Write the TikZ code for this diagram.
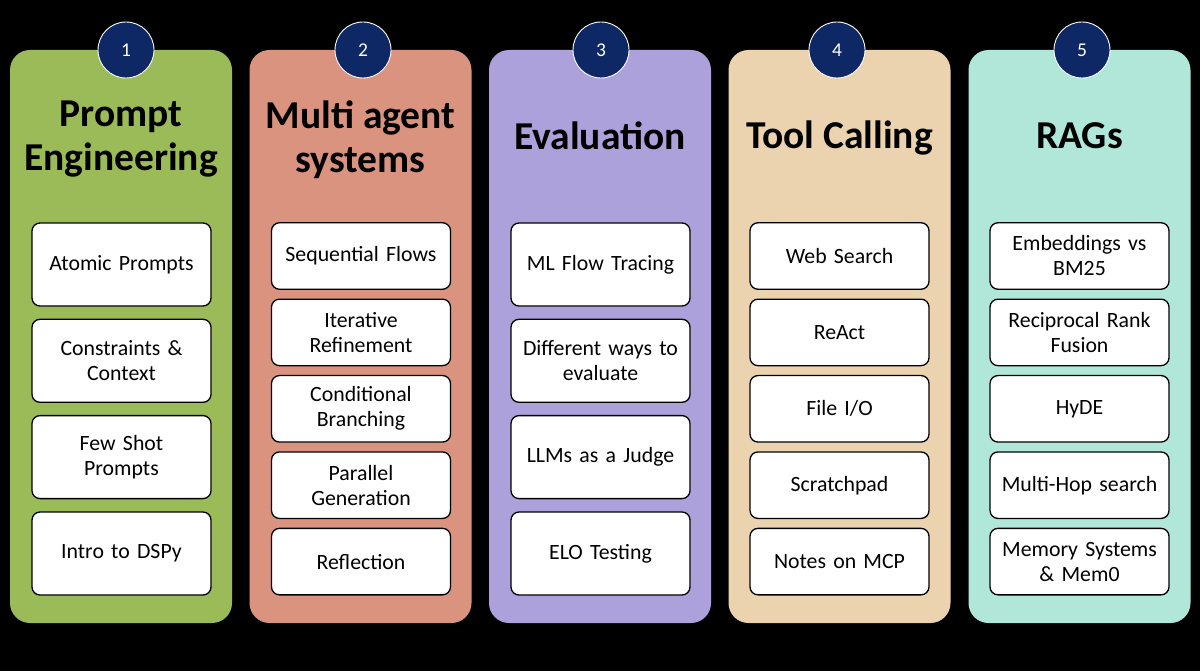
\documentclass[tikz,border=0pt]{standalone}
\usepackage{fontspec}
\setmainfont{Carlito}
\definecolor{cgreen}{HTML}{9BBB59}
\definecolor{csalmon}{HTML}{D9937F}
\definecolor{cpurple}{HTML}{ACA1DA}
\definecolor{ctan}{HTML}{EBD3AF}
\definecolor{cmint}{HTML}{B1E7D8}
\definecolor{cnavy}{HTML}{0E2765}
\begin{document}
\begin{tikzpicture}[x=1pt,y=-1pt,
  panel/.style={rounded corners=20pt, draw=none, minimum width=222pt, minimum height=573pt, inner sep=0pt},
  numc/.style={circle, fill=cnavy, draw=white, line width=0.9pt, minimum size=56pt, inner sep=0pt, text=white, font=\fontsize{19.5}{22}\selectfont},
  title/.style={align=center, font=\fontsize{39.5}{44}\selectfont\bfseries, inner sep=0pt},
  item/.style={draw=black, line width=1.3pt, fill=white, rounded corners=8pt, minimum width=179pt, inner sep=0pt, text width=176pt, align=center, font=\fontsize{21.8}{25}\selectfont},
  itemA/.style={item, minimum height=83pt},
  itemB/.style={item, minimum height=66.5pt}
]
\fill[black] (0,0) rectangle (1200,671);
\useasboundingbox (0,0) rectangle (1200,671);

% panels
\node[panel, fill=cgreen]  (p1) at (121,336.5) {};
\node[panel, fill=csalmon] (p2) at (360.5,336.5) {};
\node[panel, fill=cpurple] (p3) at (600,336.5) {};
\node[panel, fill=ctan]    (p4) at (839.5,336.5) {};
\node[panel, fill=cmint]   (p5) at (1079.5,336.5) {};

% number circles
\node[numc] (n1) at (126,50) {1};
\node[numc] (n2) at (363,50) {2};
\node[numc] (n3) at (601,50) {3};
\node[numc] (n4) at (837,50) {4};
\node[numc] (n5) at (1082,50) {5};

% titles
\node[title] (t1) at (121,139) {Prompt\\Engineering};
\node[title] (t2) at (360.5,140) {Multi agent\\systems};
\node[title] (t3) at (600,135.5) {Evaluation};
\node[title] (t4) at (839.5,138) {Tool Calling};
\node[title] (t5) at (1079.5,136) {RAGs};

% column 1
\node[itemA] (a1) at (121.5,264.5) {Atomic Prompts};
\node[itemA] (a2) at (121.5,360.8) {Constraints \&\\Context};
\node[itemA] (a3) at (121.5,457.1) {Few Shot\\Prompts};
\node[itemA] (a4) at (121.5,553.5) {Intro to DSPy};

% column 2
\node[itemB] (b1) at (361,256) {Sequential Flows};
\node[itemB] (b2) at (361,332.4) {Iterative\\Refinement};
\node[itemB] (b3) at (361,408.8) {Conditional\\Branching};
\node[itemB] (b4) at (361,485.2) {Parallel\\Generation};
\node[itemB] (b5) at (361,561.6) {Reflection};

% column 3
\node[itemA] (c1) at (600.5,264.5) {ML Flow Tracing};
\node[itemA] (c2) at (600.5,360.8) {Different ways to\\evaluate};
\node[itemA] (c3) at (600.5,457.1) {LLMs as a Judge};
\node[itemA] (c4) at (600.5,553.5) {ELO Testing};

% column 4
\node[itemB] (d1) at (839.5,256) {Web Search};
\node[itemB] (d2) at (839.5,332.4) {ReAct};
\node[itemB] (d3) at (839.5,408.8) {File I/O};
\node[itemB] (d4) at (839.5,485.2) {Scratchpad};
\node[itemB] (d5) at (839.5,561.6) {Notes on MCP};

% column 5
\node[itemB] (e1) at (1079.5,256) {Embeddings vs\\BM25};
\node[itemB] (e2) at (1079.5,332.4) {Reciprocal Rank\\Fusion};
\node[itemB] (e3) at (1079.5,408.8) {HyDE};
\node[itemB] (e4) at (1079.5,485.2) {Multi-Hop search};
\node[itemB] (e5) at (1079.5,561.6) {Memory Systems\\\& Mem0};
\end{tikzpicture}
\end{document}
